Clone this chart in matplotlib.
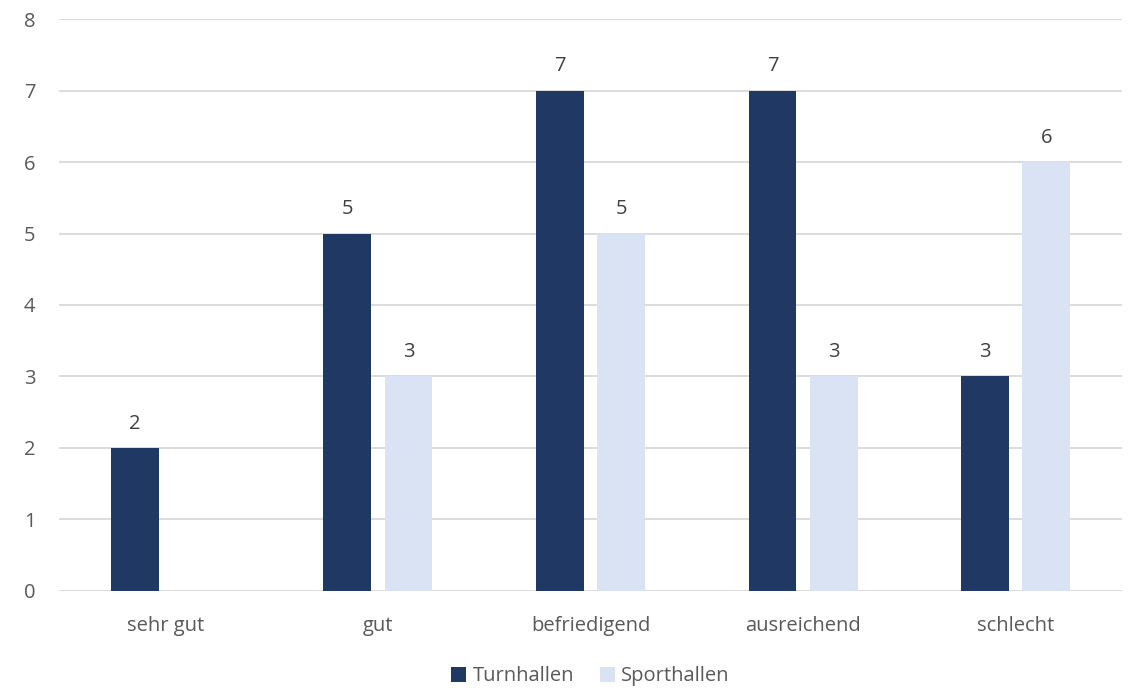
import matplotlib

matplotlib.use("Agg")
import matplotlib.pyplot as plt
import numpy as np

CATEGORIES = ["sehr gut", "gut", "befriedigend", "ausreichend", "schlecht"]
TURNHALLEN = [2, 5, 7, 7, 3]
SPORTHALLEN = [0, 3, 5, 3, 6]
SERIES = ["Turnhallen", "Sporthallen"]
COLORS = ["#1F3864", "#DAE3F3"]
TEXT = "#595959"
FS = 14.5

plt.rcParams["font.family"] = ["Open Sans", "DejaVu Sans"]

fig = plt.figure(figsize=(11.29, 6.92), dpi=100)
ax = fig.add_axes([0.0523, 0.146, 0.9415, 0.8265])

x = np.arange(len(CATEGORIES))
width, off = 0.225, 0.144
for vals, sign, color, label in zip([TURNHALLEN, SPORTHALLEN], [-1, 1], COLORS, SERIES):
    bars = ax.bar(x + sign * off, vals, width, color=color, label=label, zorder=3)
    for b, v in zip(bars, vals):
        if v:
            ax.text(b.get_x() + b.get_width() / 2, v + 0.2, str(v), ha="center",
                    va="bottom", fontsize=FS, color="#404040")

ax.set_xlim(-0.5, len(CATEGORIES) - 0.5)
ax.set_ylim(0, 8)
ax.set_yticks(range(9))
ax.set_xticks(x, CATEGORIES)
ax.grid(axis="y", color="#D9D9D9", linewidth=1.3, zorder=0)
for s in ax.spines.values():
    s.set_visible(False)
ax.tick_params(length=0, labelsize=FS, colors=TEXT)
ax.tick_params(axis="x", pad=18)
ax.tick_params(axis="y", pad=17)

ax.legend(loc="upper center", bbox_to_anchor=(0.5, -0.1), ncol=2, frameon=False,
          fontsize=FS, labelcolor=TEXT, handlelength=0.75, handleheight=0.75,
          handletextpad=0.3, columnspacing=1.3)

fig.savefig("out.png", dpi=100)
